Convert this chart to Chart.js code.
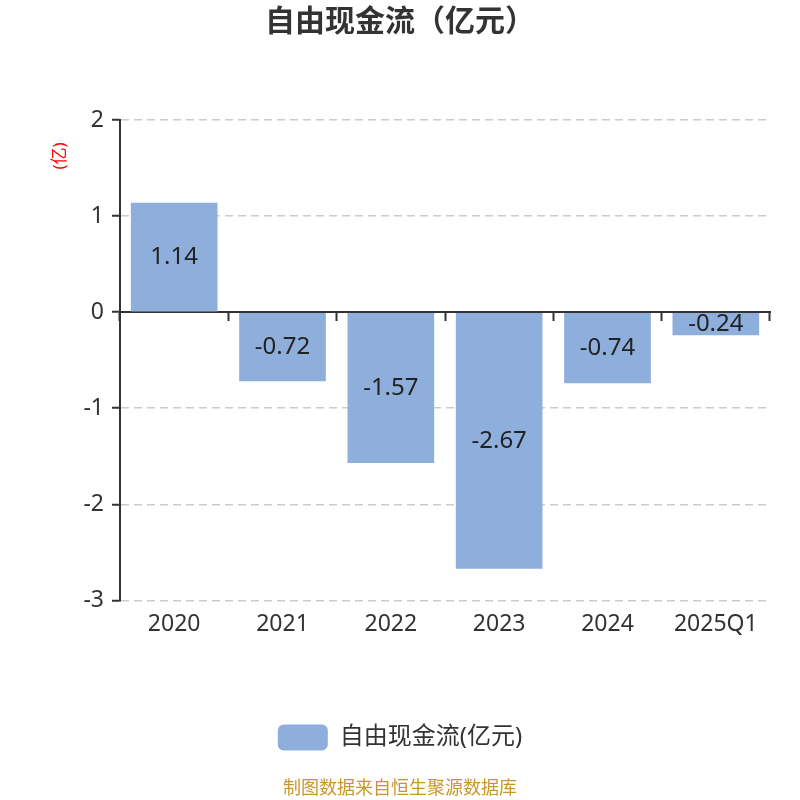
<!DOCTYPE html>
<html lang="zh">
<head>
    <meta charset="UTF-8">
    <title>自由现金流</title>
    <style>
        html, body {
            margin: 0;
            padding: 0;
            background: #fff;
        }

        #chart-box {
            width: 800px;
            height: 800px;
            position: relative;
        }
    </style>
    <script src="https://cdn.jsdelivr.net/npm/chart.js"></script>
</head>
<body>
<div id="chart-box">
    <canvas id="fcfChart"></canvas>
</div>

<script>
    // données
    const years = ["2020", "2021", "2022", "2023", "2024", "2025Q1"];
    const freeCashFlow = [1.14, -0.72, -1.57, -2.67, -0.74, -0.24];
    const yTicks = [2, 1, 0, -1, -2, -3];

    const FONT = '"Noto Sans", "Noto Sans CJK SC", sans-serif';

    // valeurs au milieu des barres
    const barValues = {
        id: "barValues",
        afterDatasetsDraw(chart) {
            const ctx = chart.ctx;
            const meta = chart.getDatasetMeta(0);
            ctx.save();
            ctx.font = "24px " + FONT;
            ctx.fillStyle = "#222";
            ctx.textAlign = "center";
            ctx.textBaseline = "middle";
            meta.data.forEach(function (bar, i) {
                const v = chart.data.datasets[0].data[i];
                ctx.fillText(v.toFixed(2), bar.x, (bar.y + bar.base) / 2);
            });
            ctx.restore();
        }
    };

    // petit titre "(亿)" en haut de l'axe
    const unitLabel = {
        id: "unitLabel",
        afterDraw(chart) {
            const ctx = chart.ctx;
            const area = chart.chartArea;
            ctx.save();
            ctx.translate(60, area.top + 36);
            ctx.rotate(-Math.PI / 2);
            ctx.font = "17px " + FONT;
            ctx.fillStyle = "#ff0000";
            ctx.textAlign = "center";
            ctx.textBaseline = "middle";
            ctx.fillText("(亿)", 0, 0);
            ctx.restore();
        }
    };

    const ctx = document.getElementById("fcfChart").getContext("2d");
    const fcfChart = new Chart(ctx, {
        type: "bar",
        data: {
            labels: years,
            datasets: [
                {
                    label: "自由现金流(亿元)",
                    data: freeCashFlow,
                    backgroundColor: "#8eaedb",
                    borderWidth: 0,
                    barPercentage: 0.8,
                    categoryPercentage: 1.0
                }
            ]
        },
        options: {
            responsive: true,
            maintainAspectRatio: false,
            animation: false,
            layout: {
                padding: { top: 0, left: 30, right: 30, bottom: 0 }
            },
            plugins: {
                title: {
                    display: true,
                    text: "自由现金流（亿元）",
                    color: "#333",
                    font: { family: FONT, size: 30, weight: "bold" },
                    padding: { top: 4, bottom: 80 }
                },
                subtitle: {
                    display: true,
                    position: "bottom",
                    text: "制图数据来自恒生聚源数据库",
                    color: "#c9962b",
                    font: { family: FONT, size: 18 },
                    padding: { top: 18, bottom: 0 }
                },
                legend: {
                    display: true,
                    position: "bottom",
                    labels: {
                        boxWidth: 50,
                        boxHeight: 26,
                        useBorderRadius: true,
                        borderRadius: 6,
                        color: "#333",
                        font: { family: FONT, size: 24 },
                        padding: 10
                    }
                },
                tooltip: { enabled: false }
            },
            scales: {
                x: {
                    position: "bottom",
                    afterFit(scale) {
                        scale.height = 114;
                    },
                    grid: { display: false, drawTicks: false },
                    border: { display: false },
                    ticks: {
                        color: "#333",
                        font: { family: FONT, size: 23 },
                        padding: 10
                    }
                },
                // ligne du zéro avec ses petites graduations
                xZero: {
                    type: "category",
                    labels: years,
                    position: { y: 0 },
                    offset: true,
                    ticks: { display: false },
                    grid: {
                        display: true,
                        offset: true,
                        drawOnChartArea: false,
                        drawTicks: true,
                        tickLength: 8,
                        tickWidth: 2,
                        tickColor: "#333"
                    },
                    border: { display: true, color: "#333", width: 2 }
                },
                y: {
                    min: -3,
                    max: 2,
                    afterFit(scale) {
                        scale.width = 90;
                    },
                    afterBuildTicks(scale) {
                        scale.ticks = yTicks.map(function (v) { return { value: v }; });
                    },
                    ticks: {
                        color: "#333",
                        font: { family: FONT, size: 23 },
                        padding: 8
                    },
                    grid: {
                        color: "#cccccc",
                        lineWidth: 1.5,
                        tickLength: 8,
                        tickWidth: 2,
                        tickColor: "#333",
                        tickBorderDash: []
                    },
                    border: { display: true, color: "#333", width: 2, dash: [8, 5] }
                }
            }
        },
        plugins: [barValues, unitLabel]
    });
</script>
</body>
</html>
